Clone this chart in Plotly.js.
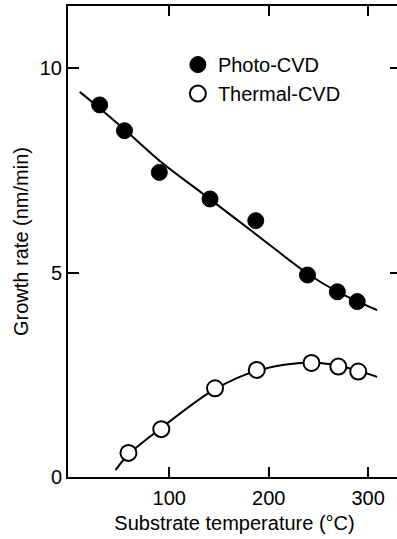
<!DOCTYPE html>
<html>
<head>
<meta charset="utf-8">
<script src="https://cdn.plot.ly/plotly-3.0.1.min.js"></script>
<style>
  html, body { margin: 0; padding: 0; background: #fff; overflow: hidden; }
  #chart { width: 403px; height: 539px; }
</style>
</head>
<body>
<div id="chart"></div>
<script>
// Measured growth rates (nm/min) versus substrate temperature (°C)
const photoT = [30, 55, 90, 141, 187, 239, 269, 289];
const photoRate = [9.1, 8.47, 7.45, 6.8, 6.27, 4.94, 4.53, 4.29];

const thermalT = [59, 92, 146, 188, 243, 270, 290];
const thermalRate = [0.59, 1.17, 2.17, 2.62, 2.79, 2.70, 2.58];

// Hand-drawn trend curves through each series
const photoFitT = [10, 30, 55, 94, 131, 188, 240, 270, 309];
const photoFitRate = [9.42, 9.02, 8.5, 7.66, 6.98, 5.92, 4.96, 4.52, 4.08];

const thermalFitT = [46, 59, 92, 146, 188, 243, 270, 290, 309];
const thermalFitRate = [0.17, 0.55, 1.2, 2.15, 2.6, 2.8, 2.72, 2.6, 2.45];

// Axis ticks
const xTicks = [100, 200, 300];
const yTicks = [0, 5, 10];

const font = { family: 'Liberation Sans, Arial, sans-serif', size: 20, color: '#000' };

const traces = [
  {
    x: photoFitT, y: photoFitRate, mode: 'lines', showlegend: false, hoverinfo: 'skip',
    line: { color: '#000', width: 2, shape: 'spline', smoothing: 1 }
  },
  {
    x: thermalFitT, y: thermalFitRate, mode: 'lines', showlegend: false, hoverinfo: 'skip',
    line: { color: '#000', width: 2, shape: 'spline', smoothing: 1 }
  },
  {
    x: photoT, y: photoRate, mode: 'markers', name: 'Photo-CVD',
    marker: { symbol: 'circle', size: 16, color: '#000', line: { color: '#000', width: 1 } }
  },
  {
    x: thermalT, y: thermalRate, mode: 'markers', name: 'Thermal-CVD',
    marker: { symbol: 'circle', size: 16, color: '#fff', line: { color: '#000', width: 2 } }
  }
];

const layout = {
  width: 403, height: 539,
  margin: { l: 68, r: 2, t: 6, b: 62 },
  paper_bgcolor: '#fff', plot_bgcolor: '#fff',
  font: font,
  showlegend: true,
  legend: {
    x: 0.33, y: 0.917, xanchor: 'left', yanchor: 'top',
    bgcolor: 'rgba(0,0,0,0)', borderwidth: 0,
    font: font, tracegroupgap: 0
  },
  xaxis: {
    range: [-1.8, 333], tickvals: xTicks, ticktext: xTicks.map(String),
    ticks: 'inside', ticklen: 10, tickwidth: 2, tickcolor: '#000',
    showline: true, linecolor: '#000', linewidth: 2, mirror: 'ticks',
    showgrid: false, zeroline: false, automargin: false,
    tickfont: font, ticklabelstandoff: 2,
    title: { text: 'Substrate temperature (°C)', font: font, standoff: 8 }
  },
  yaxis: {
    range: [0, 11.52], tickvals: yTicks, ticktext: yTicks.map(String),
    ticks: 'inside', ticklen: 11, tickwidth: 2, tickcolor: '#000',
    showline: true, linecolor: '#000', linewidth: 2, mirror: 'ticks',
    showgrid: false, zeroline: false, automargin: false,
    tickfont: font,
    title: { text: 'Growth rate (nm/min)', font: font, standoff: 6 }
  }
};

Plotly.newPlot('chart', traces, layout, { displayModeBar: false, staticPlot: true });
</script>
</body>
</html>
